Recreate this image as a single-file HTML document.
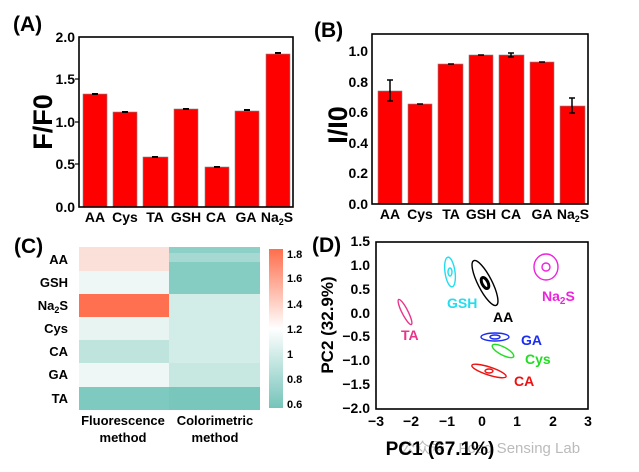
<!DOCTYPE html>
<html><head><meta charset="utf-8"><style>
html,body{margin:0;padding:0;background:#fff;}
svg{display:block;font-family:"Liberation Sans","Noto Sans CJK SC",sans-serif;font-weight:bold;}
</style></head><body>
<svg width="639" height="472" viewBox="0 0 639 472" xmlns="http://www.w3.org/2000/svg">
<defs>
<linearGradient id="cb" x1="0" y1="0" x2="0" y2="1">
<stop offset="0" stop-color="#ff6e4c"/>
<stop offset="0.5" stop-color="#ffffff"/>
<stop offset="1" stop-color="#74c4ba"/>
</linearGradient>
</defs>
<!-- Panel A -->
<text x="13" y="31" font-size="21">(A)</text>
<g font-size="14" text-anchor="end">
<text x="75" y="42">2.0</text><text x="75" y="84">1.5</text><text x="75" y="127">1.0</text><text x="75" y="169">0.5</text><text x="75" y="212">0.0</text>
</g>
<text transform="translate(52,122) rotate(-90)" font-size="27" text-anchor="middle">F/F0</text>
<g fill="#ff0000" stroke="#888" stroke-width="0.6">
<rect x="83" y="94" width="24" height="113"/>
<rect x="113" y="112" width="24" height="95"/>
<rect x="143" y="157" width="25" height="50"/>
<rect x="174" y="109" width="24" height="98"/>
<rect x="205" y="167" width="24" height="40"/>
<rect x="235" y="111" width="24" height="96"/>
<rect x="266" y="54" width="24" height="153"/>
</g>
<g stroke="#000" stroke-width="2">
<line x1="92" y1="94" x2="98" y2="94"/><line x1="122" y1="112" x2="128" y2="112"/><line x1="152" y1="157" x2="158" y2="157"/><line x1="183" y1="109" x2="189" y2="109"/><line x1="214" y1="167" x2="220" y2="167"/><line x1="244" y1="110" x2="250" y2="110"/><line x1="275" y1="53" x2="281" y2="53"/>
</g>
<rect x="79" y="37" width="214" height="170" fill="none" stroke="#000" stroke-width="1.6"/>
<g stroke="#000" stroke-width="1.2"><line x1="79" y1="79" x2="75" y2="79"/><line x1="79" y1="122" x2="75" y2="122"/><line x1="79" y1="164" x2="75" y2="164"/></g>
<g font-size="14" text-anchor="middle">
<text x="95" y="222">AA</text><text x="125" y="222">Cys</text><text x="155" y="222">TA</text><text x="186" y="222">GSH</text><text x="216" y="222">CA</text><text x="246" y="222">GA</text><text x="277" y="222">Na<tspan font-size="9" dy="3">2</tspan><tspan dy="-3">S</tspan></text>
</g>
<!-- Panel B -->
<text x="314" y="37" font-size="21">(B)</text>
<g font-size="14" text-anchor="end">
<text x="368" y="56">1.0</text><text x="368" y="87">0.8</text><text x="368" y="117">0.6</text><text x="368" y="148">0.4</text><text x="368" y="178">0.2</text><text x="368" y="209">0.0</text>
</g>
<text transform="translate(347,125) rotate(-90)" font-size="27" text-anchor="middle">I/I0</text>
<g fill="#ff0000" stroke="#888" stroke-width="0.6">
<rect x="378" y="91" width="24" height="113"/>
<rect x="408" y="104" width="24" height="100"/>
<rect x="438" y="64" width="25" height="140"/>
<rect x="469" y="55" width="24" height="149"/>
<rect x="499" y="55" width="25" height="149"/>
<rect x="530" y="62" width="24" height="142"/>
<rect x="560" y="106" width="25" height="98"/>
</g>
<g stroke="#000" stroke-width="1.5" fill="none">
<path d="M387 80H393M390 80V101M387 101H393"/>
<path d="M417 104H423"/><path d="M448 64H454"/><path d="M478 55H484"/>
<path d="M508 53H514M511 53V57M508 57H514"/><path d="M539 62H545"/>
<path d="M569 98H575M572 98V113M569 113H575"/>
</g>
<rect x="372" y="34" width="216" height="170" fill="none" stroke="#000" stroke-width="1.6"/>
<g font-size="14" text-anchor="middle">
<text x="390" y="219">AA</text><text x="420" y="219">Cys</text><text x="451" y="219">TA</text><text x="481" y="219">GSH</text><text x="511" y="219">CA</text><text x="542" y="219">GA</text><text x="573" y="219">Na<tspan font-size="9" dy="3">2</tspan><tspan dy="-3">S</tspan></text>
</g>
<!-- Panel C -->
<text x="14" y="253" font-size="21">(C)</text>
<g>
<rect x="79" y="247" width="90" height="24" fill="#fbe0da"/>
<rect x="79" y="271" width="90" height="23" fill="#eef7f6"/>
<rect x="79" y="294" width="90" height="23" fill="#fe7050"/>
<rect x="79" y="317" width="90" height="23" fill="#e8f4f1"/>
<rect x="79" y="340" width="90" height="23" fill="#bfe3dd"/>
<rect x="79" y="363" width="90" height="24" fill="#eef7f5"/>
<rect x="79" y="387" width="90" height="23" fill="#7fcac0"/>
<rect x="169" y="247" width="91" height="6" fill="#8dd0c7"/>
<rect x="169" y="253" width="91" height="18" fill="#a6d9d1"/>
<rect x="169" y="262" width="91" height="32" fill="#85ccc2"/>
<rect x="169" y="294" width="91" height="69" fill="#d2ece7"/>
<rect x="169" y="363" width="91" height="24" fill="#c7e7e1"/>
<rect x="169" y="387" width="91" height="23" fill="#78c6bc"/>
</g>
<rect x="269" y="249" width="14" height="159" fill="url(#cb)"/>
<g font-size="11" font-weight="bold">
<text x="287" y="258">1.8</text><text x="287" y="282">1.6</text><text x="287" y="308">1.4</text><text x="287" y="333">1.2</text><text x="287" y="358">1</text><text x="287" y="383">0.8</text><text x="287" y="408">0.6</text>
</g>
<g font-size="13" text-anchor="end">
<text x="68" y="264">AA</text><text x="68" y="287">GSH</text><text x="68" y="310">Na<tspan font-size="9" dy="3">2</tspan><tspan dy="-3">S</tspan></text><text x="68" y="333">Cys</text><text x="68" y="356">CA</text><text x="68" y="379">GA</text><text x="68" y="403">TA</text>
</g>
<g font-size="13" text-anchor="middle">
<text x="123" y="425">Fluorescence</text><text x="123" y="442">method</text>
<text x="215" y="425">Colorimetric</text><text x="215" y="442">method</text>
</g>
<!-- Panel D -->
<text x="312" y="252" font-size="21">(D)</text>
<rect x="376" y="242" width="212" height="167" fill="none" stroke="#000" stroke-width="1.6"/>
<g font-size="14" text-anchor="end">
<text x="370" y="246">1.5</text><text x="370" y="270">1.0</text><text x="370" y="294">0.5</text><text x="370" y="318">0.0</text><text x="370" y="341">−0.5</text><text x="370" y="365">−1.0</text><text x="370" y="389">−1.5</text><text x="370" y="413">−2.0</text>
</g>
<g font-size="14" text-anchor="middle">
<text x="376" y="426">−3</text><text x="411" y="426">−2</text><text x="447" y="426">−1</text><text x="482" y="426">0</text><text x="517" y="426">1</text><text x="553" y="426">2</text><text x="588" y="426">3</text>
</g>
<text transform="translate(333,325) rotate(-90)" font-size="17" text-anchor="middle">PC2 (32.9%)</text>
<text x="400" y="453" fill="#bbb" font-size="15" font-weight="normal">公众号 · Food Sensing Lab</text>
<text x="440" y="455" font-size="19" text-anchor="middle">PC1 (67.1%)</text>
<g fill="none" stroke-width="1.4">
<ellipse cx="450" cy="272" rx="5" ry="15" transform="rotate(-8 450 272)" stroke="#22ddee"/>
<ellipse cx="450" cy="272" rx="2" ry="4" stroke="#22ddee"/>
<ellipse cx="485" cy="283" rx="7" ry="25" transform="rotate(-27 485 283)" stroke="#000"/>
<ellipse cx="485" cy="283" rx="3" ry="6" transform="rotate(-27 485 283)" stroke="#000" stroke-width="3"/>
<ellipse cx="546" cy="267" rx="12" ry="13" stroke="#ee22dd"/>
<ellipse cx="546" cy="267" rx="4" ry="4" stroke="#ee22dd"/>
<ellipse cx="405" cy="312" rx="3" ry="14" transform="rotate(-27 405 312)" stroke="#e8348a"/>
<ellipse cx="495" cy="337" rx="14" ry="4" stroke="#1a2cf0"/>
<ellipse cx="495" cy="337" rx="5" ry="2" stroke="#1a2cf0"/>
<ellipse cx="503" cy="351" rx="12" ry="4" transform="rotate(28 503 351)" stroke="#22dd22"/>
<ellipse cx="489" cy="371" rx="18" ry="4" transform="rotate(18 489 371)" stroke="#ee1111"/>
<ellipse cx="489" cy="371" rx="4" ry="2" stroke="#ee1111"/>
</g>
<g font-size="14">
<text x="447" y="308" fill="#22ddee">GSH</text>
<text x="493" y="322" fill="#000">AA</text>
<text x="542" y="301" fill="#ee22dd">Na<tspan font-size="10" dy="3">2</tspan><tspan dy="-3">S</tspan></text>
<text x="401" y="340" fill="#e8348a">TA</text>
<text x="521" y="345" fill="#1a2cf0">GA</text>
<text x="525" y="364" fill="#22dd22">Cys</text>
<text x="514" y="386" fill="#ee1111">CA</text>
</g>
</svg>
</body></html>
